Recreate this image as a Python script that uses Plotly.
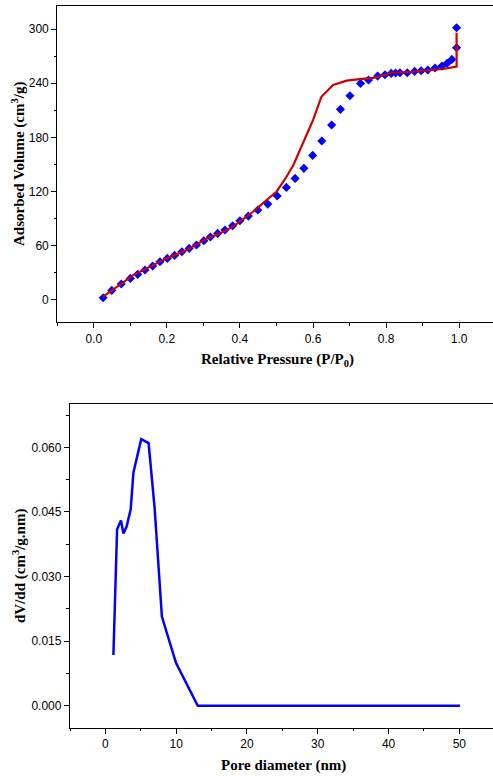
import plotly.graph_objects as go

# --- Isotherm data ---
ads_p = [0.0255, 0.049, 0.075, 0.100, 0.120, 0.140, 0.161, 0.181, 0.201, 0.221,
         0.241, 0.261, 0.281, 0.301, 0.319, 0.339, 0.359, 0.380, 0.400, 0.423,
         0.449, 0.476, 0.502, 0.527, 0.551, 0.575, 0.599, 0.624, 0.651, 0.675,
         0.701, 0.730, 0.752, 0.777, 0.797, 0.814, 0.826, 0.838, 0.858, 0.878,
         0.896, 0.914, 0.934, 0.953, 0.967, 0.980, 0.993, 0.993]
ads_v = [2.2, 10.3, 17.4, 23.6, 28.1, 32.9, 37.3, 42.1, 45.8, 49.1,
         53.2, 56.9, 60.6, 65.4, 69.5, 73.5, 77.2, 82.0, 87.6, 92.7,
         99.4, 106.0, 114.9, 124.5, 134.5, 145.6, 160.0, 175.9, 193.6, 211.0,
         226.1, 239.8, 243.5, 247.9, 249.4, 250.9, 251.3, 251.6, 251.6, 253.1,
         253.8, 254.6, 256.8, 259.0, 262.0, 266.4, 279.3, 301.5]

des_p = [0.993, 0.993, 0.960, 0.929, 0.883, 0.819, 0.765, 0.728, 0.692, 0.655,
         0.623, 0.600, 0.573, 0.546, 0.527, 0.500, 0.473, 0.436, 0.381, 0.336,
         0.318, 0.254, 0.199, 0.108, 0.0255]
des_v = [296.0, 258.5, 256.0, 254.5, 253.0, 251.6, 246.0, 244.6, 242.8, 238.0,
         225.0, 199.0, 173.0, 149.0, 136.0, 119.7, 110.5, 97.5, 81.0, 71.7,
         69.8, 55.0, 45.8, 27.3, 3.3]

# --- Pore size distribution data ---
pore_d = [1.13, 1.65, 2.2, 2.55, 3.0, 3.58, 3.96, 5.06, 6.1, 6.95, 7.98, 9.98, 13.05, 50.1]
dvdd = [0.0118, 0.0410, 0.0430, 0.0400, 0.0416, 0.0457, 0.0542, 0.0619, 0.0610,
        0.0460, 0.0207, 0.0099, 0.0, 0.0]

W, H = 493, 777
tick_font = dict(family="Arial, Liberation Sans, sans-serif", size=12, color="black")
title_font = dict(family="Times New Roman, Liberation Serif, serif", size=15, color="black")

fig = go.Figure()
fig.add_trace(go.Scatter(x=ads_p, y=ads_v, mode="markers",
                         marker=dict(symbol="diamond", size=7, color="#0000FF",
                                     line=dict(width=0)),
                         xaxis="x", yaxis="y", showlegend=False))
fig.add_trace(go.Scatter(x=des_p, y=des_v, mode="lines",
                         line=dict(color="#CC0000", width=2.2),
                         xaxis="x", yaxis="y", showlegend=False))
fig.add_trace(go.Scatter(x=pore_d, y=dvdd, mode="lines",
                         line=dict(color="#0000FF", width=2.5),
                         xaxis="x2", yaxis="y2", showlegend=False))

axis_common = dict(showgrid=False, zeroline=False, showline=True, linecolor="black",
                   linewidth=1.3, ticks="outside", ticklen=5, tickwidth=1.2,
                   tickcolor="black", tickfont=tick_font)

top_y0 = 1 - 322.3 / H
top_y1 = 1 - 6 / H
bot_y0 = 1 - 727.7 / H
bot_y1 = 1 - 404.3 / H

fig.update_layout(
    width=W, height=H, margin=dict(l=0, r=0, t=0, b=0),
    paper_bgcolor="white", plot_bgcolor="white",
    xaxis=dict(**axis_common, domain=[57.3 / W, 1], range=[-0.1, 1.0927],
               tickvals=[0.0, 0.2, 0.4, 0.6, 0.8, 1.0],
               ticktext=["0.0", "0.2", "0.4", "0.6", "0.8", "1.0"],
               minor=dict(tickvals=[-0.1, 0.1, 0.3, 0.5, 0.7, 0.9], ticklen=2.5,
                          tickcolor="black", ticks="outside", tickwidth=1.2),
               mirror=True, anchor="y"),
    yaxis=dict(**axis_common, domain=[top_y0, top_y1], range=[-25.05, 325.6],
               tickvals=[0, 60, 120, 180, 240, 300],
               minor=dict(tickvals=[30, 90, 150, 210, 270], ticklen=2.5,
                          tickcolor="black", ticks="outside", tickwidth=1.2),
               mirror=False, anchor="x"),
    xaxis2=dict(**axis_common, domain=[70 / W, 1], range=[-5, 54.75],
                tickvals=[0, 10, 20, 30, 40, 50],
                minor=dict(tickvals=[-5, 5, 15, 25, 35, 45], ticklen=2.5,
                           tickcolor="black", ticks="outside", tickwidth=1.2),
                mirror=True, anchor="y2"),
    yaxis2=dict(**axis_common, domain=[bot_y0, bot_y1], range=[-0.0051, 0.07],
                tickvals=[0.0, 0.015, 0.030, 0.045, 0.060],
                ticktext=["0.000", "0.015", "0.030", "0.045", "0.060"],
                minor=dict(tickvals=[0.0075, 0.0225, 0.0375, 0.0525, 0.0675], ticklen=2.5,
                           tickcolor="black", ticks="outside", tickwidth=1.2),
                mirror=False, anchor="x2"),
)

annotations = [
    dict(text="<b>Adsorbed Volume (cm<sup>3</sup>/g)</b>", x=18 / W, y=1 - 164 / H,
         textangle=-90),
    dict(text="<b>Relative Pressure (P/P<sub>0</sub>)</b>", x=277 / W, y=1 - 360 / H,
         textangle=0),
    dict(text="<b>dV/dd (cm<sup>3</sup>/g.nm)</b>", x=19 / W, y=1 - 566 / H,
         textangle=-90),
    dict(text="<b>Pore diameter (nm)</b>", x=283 / W, y=1 - 765.5 / H, textangle=0),
]
for a in annotations:
    fig.add_annotation(xref="paper", yref="paper", showarrow=False,
                       xanchor="center", yanchor="middle", font=title_font, **a)

fig.write_html("out.html")
